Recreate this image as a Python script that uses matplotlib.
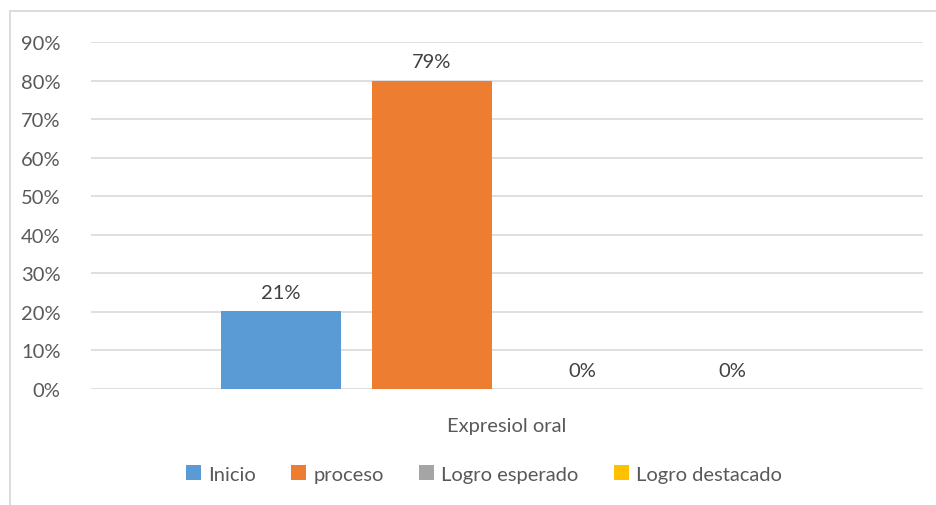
import matplotlib
matplotlib.use("Agg")
import matplotlib.pyplot as plt
from matplotlib.patches import Rectangle, Patch
from matplotlib.ticker import PercentFormatter

# data
category = "Expresiol oral"
series = ["Inicio", "proceso", "Logro esperado", "Logro destacado"]
values = [0.202, 0.80, 0.0, 0.0]
value_labels = ["21%", "79%", "0%", "0%"]
colors = ["#5B9BD5", "#ED7D31", "#A5A5A5", "#FFC000"]
yticks = [0, 0.1, 0.2, 0.3, 0.4, 0.5, 0.6, 0.7, 0.8, 0.9]

plt.rcParams['font.family'] = ['Lato', 'DejaVu Sans']
fs = 14.5

fig = plt.figure(figsize=(9.37, 5.06), dpi=100)
ax = fig.add_axes([91/937, 1-390/506, 832/937, 347/506])

# outer chart border (cropped at right/bottom like the source)
fig.patches.append(Rectangle((10/937, -0.05), 1.1, 1-12/506+0.05,
                             transform=fig.transFigure, fill=False,
                             edgecolor="#D9D9D9", linewidth=1.3))

width = 120/832
step = 150.5/832
n = len(series)
for i, (name, v, lab, c) in enumerate(zip(series, values, value_labels, colors)):
    x = (i - (n-1)/2) * step
    ax.bar(x, v, width=width, color=c, zorder=3)
    ax.text(x, v + 0.027, lab, ha="center", va="bottom", fontsize=fs, color="#404040")

ax.set_xlim(-0.5, 0.5)
ax.set_ylim(0, 0.9)
ax.set_yticks(yticks)
ax.yaxis.set_major_formatter(PercentFormatter(1.0, decimals=0))
ax.set_xticks([0])
ax.set_xticklabels([category])
ax.tick_params(axis="x", length=0, pad=20, labelsize=fs, labelcolor="#595959")
ax.tick_params(axis="y", length=0, pad=22, labelsize=fs, labelcolor="#595959")
ax.grid(axis="y", color="#D9D9D9", linewidth=1.2, zorder=0)
for s in ax.spines.values():
    s.set_visible(False)

handles = [Patch(facecolor=c, edgecolor="none") for c in colors]
fig.legend(handles, series, loc="center", bbox_to_anchor=(484/937, 1-475/506),
           ncol=4, frameon=False, fontsize=fs, handlelength=0.75, handleheight=0.75,
           handletextpad=0.35, columnspacing=1.75, labelcolor="#595959")

plt.savefig("out.png", dpi=100)
